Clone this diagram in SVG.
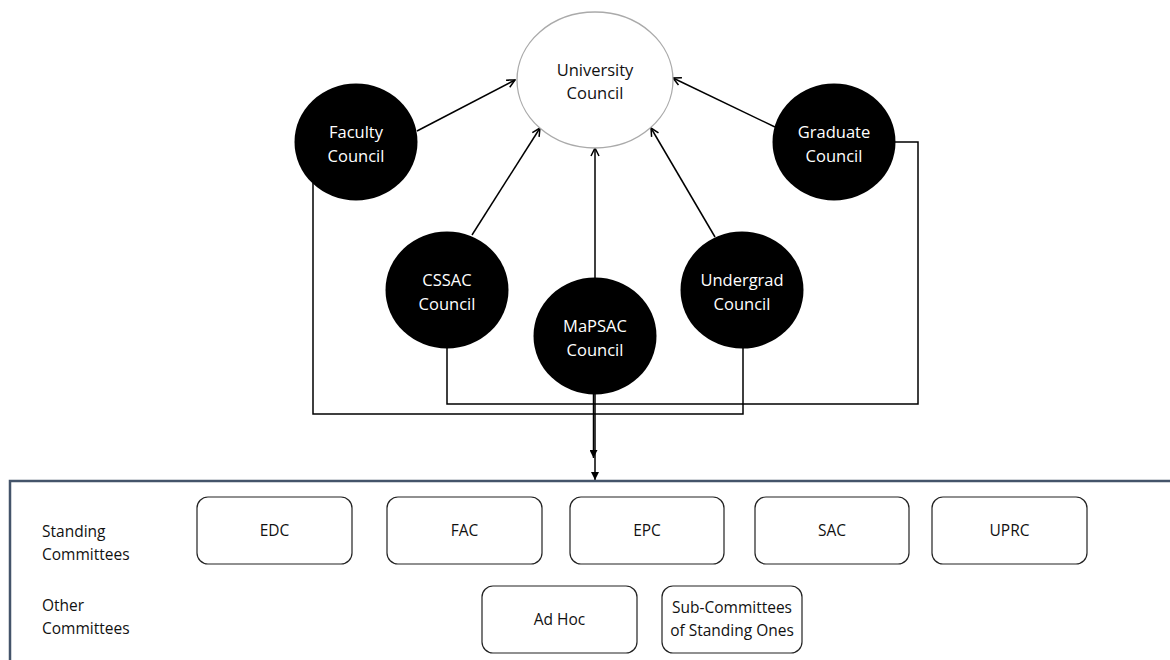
<svg xmlns="http://www.w3.org/2000/svg" width="1170" height="660" viewBox="0 0 1170 660">
<style>
  .lbl{font-family:"Open Sans","Noto Sans","Liberation Sans",sans-serif;font-size:15.5px;}
  .big{font-size:16.5px;}
  .wt{fill:#ffffff;text-anchor:middle;}
  .bk{fill:#111111;}
  .ctr{text-anchor:middle;}
  .council{fill:#000000;}
  .conn{fill:none;stroke:#000000;stroke-width:1.5;}
  .cbox{fill:#ffffff;stroke:#222222;stroke-width:1.2;}
</style>
<defs>
  <marker id="open" viewBox="0 0 10 10" refX="9" refY="5" markerWidth="10" markerHeight="10" markerUnits="userSpaceOnUse" orient="auto">
    <path d="M1,1 L9,5 L1,9" fill="none" stroke="#000" stroke-width="1.5"/>
  </marker>
  <marker id="fill" viewBox="0 0 10 10" refX="10" refY="5" markerWidth="8" markerHeight="8" markerUnits="userSpaceOnUse" orient="auto">
    <path d="M0,0 L10,5 L0,10 Z" fill="#000"/>
  </marker>
</defs>
<rect width="1170" height="660" fill="#ffffff"/>

<g id="connectors">
  <line class="conn" x1="417" y1="131" x2="515" y2="80" marker-end="url(#open)"/>
  <line class="conn" x1="472" y1="235" x2="540" y2="128" marker-end="url(#open)"/>
  <line class="conn" x1="595" y1="278" x2="595" y2="148" marker-end="url(#open)"/>
  <line class="conn" x1="715" y1="237" x2="651" y2="128" marker-end="url(#open)"/>
  <line class="conn" x1="775" y1="127" x2="673" y2="78" marker-end="url(#open)"/>
  <path class="conn" d="M313,183 L313,414 L743,414 L743,348"/>
  <path class="conn" d="M447,348 L447,404 L918,404 L918,142 L895,142"/>
  <line class="conn" x1="593.5" y1="394" x2="593.5" y2="458" marker-end="url(#fill)"/>
  <line class="conn" x1="595" y1="394" x2="595" y2="480" marker-end="url(#fill)"/>
</g>

<g id="university-council">
  <ellipse cx="595" cy="80" rx="78" ry="68" fill="#ffffff" stroke="#aaaaaa" stroke-width="1.3"/>
  <text class="lbl big bk ctr" x="595" y="76">University</text>
  <text class="lbl big bk ctr" x="595" y="99">Council</text>
</g>
<g id="faculty-council">
  <ellipse class="council" cx="356" cy="142" rx="61.5" ry="58.5"/>
  <text class="lbl big wt" x="356" y="138">Faculty</text>
  <text class="lbl big wt" x="356" y="162">Council</text>
</g>
<g id="graduate-council">
  <ellipse class="council" cx="834" cy="142" rx="61.5" ry="58.5"/>
  <text class="lbl big wt" x="834" y="138">Graduate</text>
  <text class="lbl big wt" x="834" y="162">Council</text>
</g>
<g id="cssac-council">
  <ellipse class="council" cx="447" cy="290" rx="61.5" ry="58.5"/>
  <text class="lbl big wt" x="447" y="286">CSSAC</text>
  <text class="lbl big wt" x="447" y="310">Council</text>
</g>
<g id="mapsac-council">
  <ellipse class="council" cx="595" cy="336" rx="61.5" ry="58.5"/>
  <text class="lbl big wt" x="595" y="332">MaPSAC</text>
  <text class="lbl big wt" x="595" y="356">Council</text>
</g>
<g id="undergrad-council">
  <ellipse class="council" cx="742" cy="290" rx="61.5" ry="58.5"/>
  <text class="lbl big wt" x="742" y="286">Undergrad</text>
  <text class="lbl big wt" x="742" y="310">Council</text>
</g>

<g id="committees-panel">
  <rect x="10" y="481" width="1180" height="200" fill="none" stroke="#44546A" stroke-width="2.5"/>
  <text class="lbl bk" x="42" y="537">Standing</text>
  <text class="lbl bk" x="42" y="560">Committees</text>
  <text class="lbl bk" x="42" y="611">Other</text>
  <text class="lbl bk" x="42" y="634">Committees</text>
</g>
<g id="edc"><rect class="cbox" x="197" y="497" width="155" height="67" rx="11"/><text class="lbl bk ctr" x="274.5" y="536">EDC</text></g>
<g id="fac"><rect class="cbox" x="387" y="497" width="155" height="67" rx="11"/><text class="lbl bk ctr" x="464.5" y="536">FAC</text></g>
<g id="epc"><rect class="cbox" x="570" y="497" width="154" height="67" rx="11"/><text class="lbl bk ctr" x="647" y="536">EPC</text></g>
<g id="sac"><rect class="cbox" x="755" y="497" width="154" height="67" rx="11"/><text class="lbl bk ctr" x="832" y="536">SAC</text></g>
<g id="uprc"><rect class="cbox" x="932" y="497" width="155" height="67" rx="11"/><text class="lbl bk ctr" x="1009.5" y="536">UPRC</text></g>
<g id="ad-hoc"><rect class="cbox" x="482" y="586" width="155" height="67" rx="11"/><text class="lbl bk ctr" x="559.5" y="625">Ad Hoc</text></g>
<g id="sub-committees"><rect class="cbox" x="662" y="586" width="140" height="67" rx="11"/><text class="lbl bk ctr" x="732" y="613">Sub-Committees</text><text class="lbl bk ctr" x="732" y="636">of Standing Ones</text></g>
</svg>
